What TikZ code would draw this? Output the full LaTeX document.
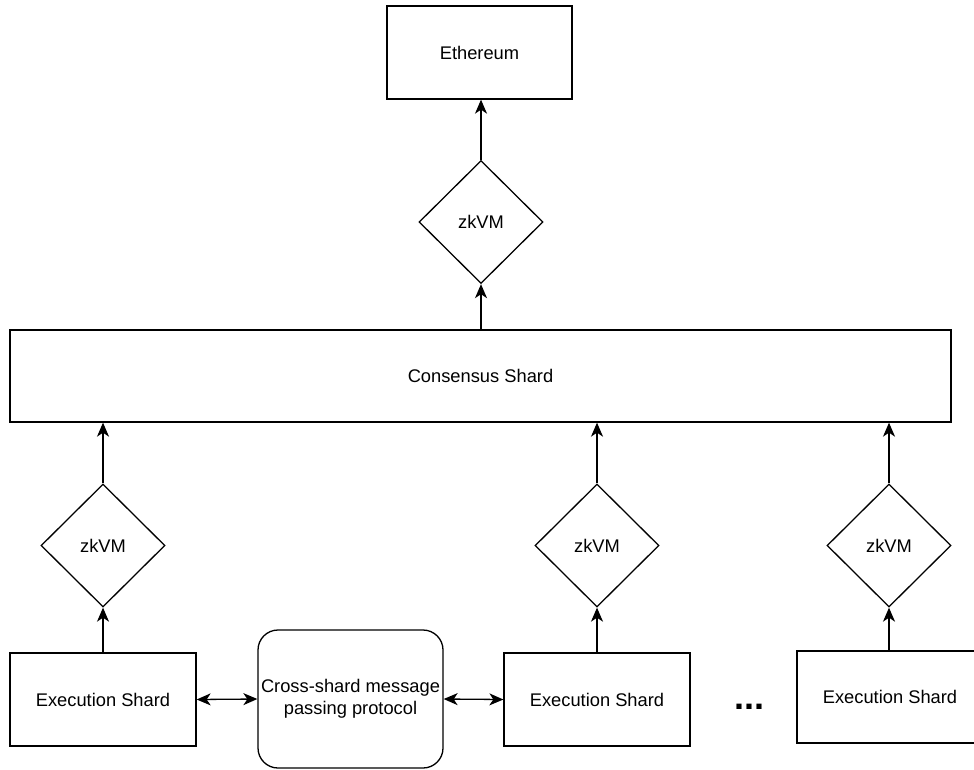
\documentclass[tikz,border=0pt]{standalone}
\usepackage{fontspec}
\setmainfont{Liberation Sans}
\usetikzlibrary{shapes.geometric,arrows.meta}
\begin{document}
\begin{tikzpicture}[x=1pt,y=-1pt,
  every node/.style={font=\fontsize{18.3}{22}\selectfont, text=black},
  box/.style={draw, line width=1.3pt, rectangle, inner sep=0pt},
  zk/.style={draw, line width=1.3pt, diamond, minimum width=124pt, minimum height=123pt, inner sep=0pt},
  tip/.style={Stealth[length=14pt,width=12pt,inset=4pt]},
  conn/.style={line width=1.3pt, -{Stealth[length=14pt,width=12pt,inset=4pt]}},
  bconn/.style={line width=1.3pt, {Stealth[length=14pt,width=12pt,inset=4pt]}-{Stealth[length=14pt,width=12pt,inset=4pt]}}
]
\useasboundingbox (0,0) rectangle (974,769);
\fill[white] (0,0) rectangle (974,769);
\node[box, minimum width=185pt, minimum height=93pt] (eth) at (479.5,52.5) {Ethereum};
\node[zk] (zk0) at (481,222) {zkVM};
\node[box, minimum width=941pt, minimum height=92pt] (cons) at (480.5,376) {Consensus Shard};
\node[zk] (zk1) at (103,545.5) {zkVM};
\node[zk] (zk2) at (597,545.5) {zkVM};
\node[zk] (zk3) at (889,545.5) {zkVM};
\node[box, minimum width=186pt, minimum height=93pt] (ex1) at (103,699.5) {Execution Shard};
\node[box, minimum width=186pt, minimum height=93pt] (ex2) at (597,699.5) {Execution Shard};
\node[box, minimum width=186pt, minimum height=92pt] (ex3) at (890,697) {Execution Shard};
\node[draw, line width=1.3pt, rounded corners=20pt, minimum width=185pt, minimum height=138pt, inner sep=0pt, align=center] (cross) at (350.5,699) {Cross-shard message\\passing protocol};
\node[font=\fontsize{36}{40}\selectfont\bfseries] (dots) at (749,707) {...};
\draw[conn] (zk0.north) -- (eth.south -| zk0.north);
\draw[conn] (cons.north -| zk0.south) -- (zk0.south);
\draw[conn] (zk1.north) -- (cons.south -| zk1.north);
\draw[conn] (zk2.north) -- (cons.south -| zk2.north);
\draw[conn] (zk3.north) -- (cons.south -| zk3.north);
\draw[conn] (ex1.north -| zk1.south) -- (zk1.south);
\draw[conn] (ex2.north -| zk2.south) -- (zk2.south);
\draw[conn] (ex3.north -| zk3.south) -- (zk3.south);
\draw[bconn] (ex1.east) -- (cross.west);
\draw[bconn] (cross.east) -- (ex2.west);
\end{tikzpicture}
\end{document}
